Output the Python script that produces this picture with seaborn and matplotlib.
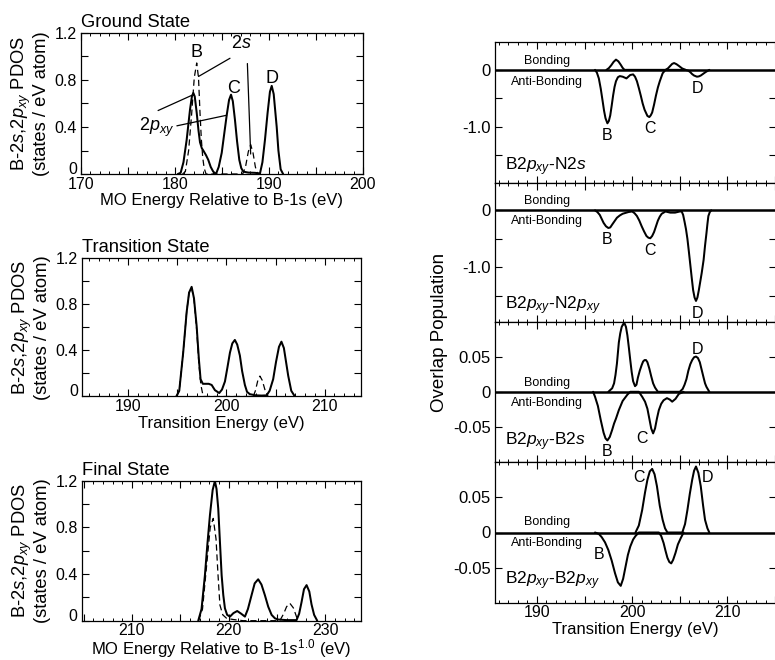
import numpy as np
import pandas as pd
import matplotlib
matplotlib.use("Agg")
import matplotlib.pyplot as plt
from matplotlib.ticker import MultipleLocator, FuncFormatter, FixedLocator
import seaborn as sns

# ---------------- data ----------------
# Ground state PDOS
gs_2p_x = [180.3, 180.6, 180.9, 181.24, 181.6, 181.8, 181.95, 182.1, 182.31, 182.5, 182.66, 182.85,
           183.01, 183.3, 183.54, 183.8, 184.07, 184.36, 184.65, 184.97, 185.25, 185.5, 185.75, 185.96,
           186.15, 186.38, 186.6, 186.84, 187.05, 187.27, 187.8, 188.5, 189.04, 189.3, 189.57, 189.85,
           190.1, 190.29, 190.5, 190.82, 191.0, 191.24, 191.5]
gs_2p_y = [0.0, 0.01, 0.1, 0.29, 0.55, 0.66, 0.69, 0.66, 0.52, 0.37, 0.27, 0.22,
           0.2, 0.16, 0.12, 0.06, 0.02, 0.0, 0.06, 0.18, 0.35, 0.5, 0.63, 0.675,
           0.62, 0.46, 0.28, 0.12, 0.05, 0.02, 0.012, 0.01, 0.005, 0.1, 0.29, 0.52,
           0.7, 0.75, 0.68, 0.4, 0.2, 0.04, 0.0]
gs_2s_x = [180.8, 181.1, 181.45, 181.78, 182.05, 182.31, 182.5, 182.66, 182.8, 182.95, 183.1, 183.3,
           187.2, 187.5, 187.8, 188.05, 188.3, 188.55, 188.8]
gs_2s_y = [0.0, 0.02, 0.2, 0.52, 0.82, 0.945, 0.82, 0.52, 0.3, 0.14, 0.05, 0.0,
           0.0, 0.06, 0.19, 0.25, 0.18, 0.06, 0.0]

# Transition state PDOS
ts_2p_x = [194.9, 195.2, 195.6, 195.95, 196.2, 196.46, 196.7, 196.97, 197.2, 197.37, 197.6, 197.8,
           198.2, 198.5, 198.83, 199.27, 199.55, 199.85, 200.1, 200.36, 200.6, 200.86, 201.1, 201.37,
           201.6, 201.88, 202.1, 202.39, 203.0, 203.6, 204.09, 204.4, 204.76, 205.05, 205.35, 205.6,
           205.85, 206.07, 206.29, 206.6, 206.97]
ts_2p_y = [0.0, 0.05, 0.38, 0.73, 0.9, 0.95, 0.85, 0.61, 0.32, 0.15, 0.11, 0.11,
           0.11, 0.1, 0.055, 0.03, 0.06, 0.13, 0.25, 0.38, 0.46, 0.49, 0.45, 0.355,
           0.22, 0.1, 0.04, 0.02, 0.01, 0.008, 0.01, 0.05, 0.15, 0.3, 0.43, 0.475,
           0.42, 0.3, 0.18, 0.05, 0.0]
ts_2s_x = [194.9, 195.2, 195.6, 195.95, 196.2, 196.46, 196.7, 196.97, 197.2, 197.4, 197.64,
           202.73, 202.95, 203.2, 203.41, 203.65, 203.95, 204.25]
ts_2s_y = [0.0, 0.05, 0.38, 0.73, 0.9, 0.94, 0.84, 0.58, 0.28, 0.1, 0.0,
           0.0, 0.05, 0.14, 0.177, 0.14, 0.05, 0.0]

# Final state PDOS
fs_2p_x = [216.86, 217.2, 217.55, 217.8, 218.07, 218.35, 218.58, 218.75, 218.93, 219.1, 219.28, 219.45,
           219.62, 219.85, 220.14, 220.5, 220.89, 221.3, 221.69, 222.0, 222.38, 222.7, 223.06, 223.4,
           223.75, 224.1, 224.45, 224.8, 225.13, 226.0, 227.03, 227.3, 227.55, 227.8, 228.07, 228.35,
           228.58, 228.85, 229.17]
fs_2p_y = [0.0, 0.1, 0.39, 0.65, 0.905, 1.12, 1.197, 1.13, 0.96, 0.68, 0.39, 0.22,
           0.106, 0.05, 0.035, 0.065, 0.083, 0.06, 0.035, 0.1, 0.22, 0.32, 0.355, 0.31,
           0.22, 0.12, 0.05, 0.02, 0.01, 0.005, 0.005, 0.06, 0.16, 0.27, 0.305, 0.25,
           0.14, 0.05, 0.0]
fs_2s_x = [216.9, 217.3, 217.7, 218.1, 218.41, 218.7, 218.9, 219.1, 219.4, 219.8, 220.5, 221.5,
           225.3, 225.7, 226.0, 226.34, 226.7, 227.0, 227.2]
fs_2s_y = [0.0, 0.1, 0.45, 0.8, 0.877, 0.7, 0.4, 0.135, 0.05, 0.02, 0.01, 0.0,
           0.0, 0.06, 0.12, 0.149, 0.11, 0.04, 0.0]

# Overlap populations (transition state)
n2s_bond_x = [197.3, 197.55, 197.8, 198.05, 198.3, 198.55, 198.8, 199.0, 199.2,
              203.5, 203.75, 204.0, 204.2, 204.4, 204.65, 204.9, 205.25, 205.6]
n2s_bond_y = [0.0, 0.03, 0.08, 0.14, 0.18, 0.15, 0.09, 0.035, 0.0,
              0.0, 0.025, 0.07, 0.105, 0.12, 0.1, 0.07, 0.025, 0.0]
n2s_anti_x = [196.1, 196.3, 196.5, 196.7, 196.9, 197.05, 197.2, 197.4, 197.55, 197.7, 197.85, 198.0,
              198.15, 198.3, 198.5, 198.7, 199.0, 199.4, 199.8, 200.1, 200.3, 200.5, 200.7, 200.9,
              201.1, 201.3, 201.6, 201.8, 201.95, 202.1, 202.3, 202.5, 202.7, 202.9, 203.2, 203.5,
              205.6, 205.9, 206.1, 206.3, 206.5, 206.8, 207.0, 207.2, 207.45, 207.7, 208.1]
n2s_anti_y = [0.0, -0.05, -0.15, -0.33, -0.55, -0.72, -0.85, -0.94, -0.9, -0.8, -0.63, -0.45,
              -0.3, -0.2, -0.13, -0.11, -0.12, -0.15, -0.09, -0.08, -0.12, -0.2, -0.32, -0.45,
              -0.59, -0.7, -0.81, -0.83, -0.8, -0.75, -0.61, -0.45, -0.31, -0.2, -0.06, 0.0,
              0.0, -0.015, -0.04, -0.075, -0.1, -0.12, -0.115, -0.1, -0.07, -0.04, 0.0]

n2p_anti_x = [196.1, 196.35, 196.6, 196.8, 197.0, 197.25, 197.5, 197.7, 197.9, 198.15, 198.4, 198.7,
              199.0, 199.6, 200.0, 200.25, 200.5, 200.75, 201.0, 201.25, 201.5, 201.7, 201.9, 202.1,
              202.3, 202.5, 202.7, 202.9, 203.1, 203.5, 204.0, 204.5, 205.0, 205.2, 205.35, 205.5,
              205.65, 205.8, 205.95, 206.1, 206.25, 206.4, 206.55, 206.7, 206.85, 207.0, 207.15,
              207.3, 207.5, 207.65, 207.8, 207.9, 208.0, 208.15, 208.3]
n2p_anti_y = [0.0, -0.03, -0.08, -0.15, -0.22, -0.28, -0.31, -0.3, -0.25, -0.19, -0.13, -0.09,
              -0.06, -0.03, -0.02, -0.05, -0.1, -0.18, -0.28, -0.37, -0.45, -0.48, -0.49, -0.45,
              -0.38, -0.28, -0.18, -0.11, -0.06, -0.02, -0.04, -0.04, -0.02, -0.02, -0.08, -0.2,
              -0.33, -0.5, -0.72, -0.95, -1.18, -1.4, -1.53, -1.59, -1.53, -1.4, -1.25,
              -1.1, -0.87, -0.62, -0.4, -0.24, -0.1, -0.03, 0.0]

b2s_bond_x = [197.5, 197.9, 198.1, 198.25, 198.4, 198.6, 198.75, 198.9, 199.05, 199.2, 199.35, 199.5,
              199.65, 199.8, 199.95, 200.1, 200.3, 200.45, 200.6, 200.8, 201.0, 201.15, 201.3, 201.45,
              201.6, 201.8, 202.0, 202.2, 202.4, 202.7,
              205.0, 205.3, 205.5, 205.7, 205.9, 206.1, 206.3, 206.5, 206.7, 206.9, 207.1,
              207.3, 207.5, 207.65, 207.8, 208.1]
b2s_bond_y = [0.0, 0.005, 0.012, 0.024, 0.04, 0.07, 0.083, 0.092, 0.096, 0.097, 0.092, 0.08,
              0.063, 0.045, 0.028, 0.015, 0.008, 0.01, 0.02, 0.03, 0.038, 0.043, 0.045, 0.045,
              0.042, 0.033, 0.022, 0.012, 0.006, 0.0,
              0.0, 0.004, 0.01, 0.018, 0.03, 0.039, 0.045, 0.049, 0.05, 0.048, 0.042,
              0.031, 0.02, 0.012, 0.007, 0.0]
b2s_anti_x = [195.9, 196.1, 196.4, 196.7, 197.0, 197.2, 197.4, 197.65, 197.9, 198.1, 198.3, 198.6,
              199.0, 199.5, 199.8,
              200.7, 201.05, 201.35, 201.6, 201.8, 202.0, 202.2, 202.4, 202.6, 202.8, 203.05,
              203.3, 203.65, 203.95, 204.2, 204.55, 204.9, 205.4]
b2s_anti_y = [0.0, -0.007, -0.02, -0.04, -0.058, -0.066, -0.069, -0.064, -0.054, -0.045, -0.038, -0.026,
              -0.013, -0.004, 0.0,
              0.0, -0.007, -0.014, -0.024, -0.038, -0.052, -0.059, -0.052, -0.038, -0.026, -0.017,
              -0.012, -0.009, -0.011, -0.014, -0.01, -0.003, 0.0]

b2p_bond_x = [200.35, 200.7, 201.05, 201.35, 201.6, 201.85, 202.1, 202.35, 202.6, 202.9, 203.2,
              203.45, 203.7,
              205.26, 205.55, 205.8, 206.05, 206.3, 206.5, 206.7, 206.95, 207.2, 207.45, 207.65,
              207.9, 208.1]
b2p_bond_y = [0.0, 0.01, 0.032, 0.057, 0.075, 0.087, 0.0906, 0.083, 0.066, 0.038, 0.018,
              0.006, 0.0,
              0.0, 0.012, 0.032, 0.055, 0.075, 0.088, 0.094, 0.085, 0.066, 0.038, 0.018,
              0.006, 0.0]
b2p_anti_x = [196.1, 196.5, 196.8, 197.15, 197.5, 197.85, 198.2, 198.5, 198.8, 199.05, 199.3, 199.55,
              199.8, 200.1, 200.35, 200.7,
              202.8, 203.05, 203.3, 203.5, 203.7, 203.9, 204.1, 204.3, 204.55, 204.8, 205.1, 205.4]
b2p_anti_y = [0.0, -0.002, -0.0066, -0.014, -0.025, -0.04, -0.058, -0.071, -0.076, -0.066, -0.049, -0.032,
              -0.02, -0.01, -0.005, 0.0,
              0.0, -0.005, -0.015, -0.026, -0.036, -0.042, -0.044, -0.039, -0.029, -0.017, -0.008, 0.0]

# ---------------- style ----------------
sns.set_theme(style="ticks")
plt.rcParams['font.family'] = ['Liberation Sans', 'DejaVu Sans']
plt.rcParams['mathtext.fontset'] = 'custom'
plt.rcParams['mathtext.rm'] = 'Liberation Sans'
plt.rcParams['mathtext.it'] = 'Liberation Sans:italic'
plt.rcParams['axes.unicode_minus'] = False
plt.rcParams['axes.linewidth'] = 0.9
plt.rcParams['axes.edgecolor'] = 'black'
for k in ['text.color', 'axes.labelcolor', 'xtick.color', 'ytick.color']:
    plt.rcParams[k] = 'black'

W, H = 775, 660
fig = plt.figure(figsize=(W / 100, H / 100), dpi=100)


def add_ax(x0, y0, x1, y1):
    return fig.add_axes([x0 / W, 1 - y1 / H, (x1 - x0) / W, (y1 - y0) / H])


def draw(ax, xs, ys, dashed=False):
    df = pd.DataFrame({"E": xs, "v": ys})
    if dashed:
        sns.lineplot(data=df, x="E", y="v", ax=ax, color="black", lw=0.9,
                     estimator=None, sort=False, linestyle=(0, (5, 3)))
    else:
        sns.lineplot(data=df, x="E", y="v", ax=ax, color="black", lw=1.45,
                     estimator=None, sort=False)


def tenfmt(v, pos):
    return "%d" % round(v) if abs(v / 10 - round(v / 10)) < 1e-6 else ""


def style_x(ax, labels=True):
    ax.xaxis.set_major_locator(MultipleLocator(5))
    ax.xaxis.set_minor_locator(MultipleLocator(1))
    ax.xaxis.set_major_formatter(FuncFormatter(tenfmt))
    ax.tick_params(axis="x", which="both", direction="in", top=True, bottom=True,
                   labelsize=11.5, colors="black", pad=2)
    ax.tick_params(axis="x", which="major", length=5, width=0.8)
    ax.tick_params(axis="x", which="minor", length=2.5, width=0.7)
    if not labels:
        ax.tick_params(axis="x", labelbottom=False)


ylab = "B-2$s$,2$p_{xy}$ PDOS\n(states / eV atom)"

left_specs = [
    ((81, 33, 363, 174), (170, 200), gs_2p_x, gs_2p_y, gs_2s_x, gs_2s_y,
     "Ground State", "MO Energy Relative to B-1s (eV)"),
    ((82, 258, 361, 396.5), (185.3, 213.7), ts_2p_x, ts_2p_y, ts_2s_x, ts_2s_y,
     "Transition State", "Transition Energy (eV)"),
    ((81.7, 480.7, 361, 620.7), (204.8, 233.7), fs_2p_x, fs_2p_y, fs_2s_x, fs_2s_y,
     "Final State", "MO Energy Relative to B-1$s^{1.0}$ (eV)"),
]
left_axes = []
for j, (box, xl, px, py, sx, sy, title, xlabel) in enumerate(left_specs):
    ax = add_ax(*box)
    draw(ax, sx, sy, dashed=True)
    draw(ax, px, py)
    ax.set_xlim(*xl)
    ax.set_ylim(0, 1.2)
    style_x(ax)
    ax.yaxis.set_major_locator(FixedLocator([0, 0.4, 0.8, 1.2]))
    ax.set_yticklabels(["0", "0.4", "0.8", "1.2"])
    ax.get_yticklabels()[0].set_va("baseline")
    ax.yaxis.set_minor_locator(MultipleLocator(0.2))
    ax.tick_params(axis="y", which="both", direction="in", left=True, right=True,
                   labelsize=11.5, colors="black", length=5, width=0.8, pad=3)
    ax.set_xlabel(xlabel, fontsize=12, labelpad=(-1 if j == 2 else 1), color="black")
    ax.set_ylabel(ylab, fontsize=13.2, labelpad=3, color="black", linespacing=1.0)
    ax.text(0.0, 1.015, title, transform=ax.transAxes, fontsize=13.2,
            ha="left", va="bottom", color="black")
    for s in ax.spines.values():
        s.set_visible(True)
    left_axes.append(ax)

# annotations in ground state panel
ag = left_axes[0]
ag.text(182.3, 1.03, "B", fontsize=13, ha="center", va="center")
ag.text(190.3, 0.81, "D", fontsize=13, ha="center", va="center")
ag.text(186.2, 0.73, "C", fontsize=13, ha="center", va="center")
ag.text(187.1, 1.11, "2$s$", fontsize=13, ha="center", va="center")
ag.text(178.05, 0.40, "2$p_{xy}$", fontsize=13, ha="center", va="center")
for (x0, y0, x1, y1) in [(185.85, 0.985, 182.5, 0.83), (187.7, 0.94, 188.05, 0.17),
                         (178.2, 0.54, 181.8, 0.67), (180.2, 0.41, 185.5, 0.50)]:
    ag.annotate("", xy=(x1, y1), xytext=(x0, y0),
                arrowprops=dict(arrowstyle="-", color="black", lw=0.9, shrinkA=0, shrinkB=0))

# ---------------- right column: overlap populations ----------------
right_specs = [
    ((495, 42, 776, 183), (-1.99, 0.49), n2s_bond_x, n2s_bond_y, n2s_anti_x, n2s_anti_y,
     [0, -1.0], ["0", "-1.0"], [-0.5, -1.5], "B2$p_{xy}$-N2$s$", -1.70,
     [("B", 197.37, -1.15), ("C", 201.9, -1.03), ("D", 206.9, -0.32)], (0.16, -0.21)),
    ((495, 183, 776, 322), (-1.96, 0.48), None, None, n2p_anti_x, n2p_anti_y,
     [0, -1.0], ["0", "-1.0"], [-0.5, -1.5], "B2$p_{xy}$-N2$p_{xy}$", -1.67,
     [("B", 197.37, -0.52), ("C", 201.9, -0.70), ("D", 206.84, -1.81)], (0.16, -0.19)),
    ((495, 322, 776, 462.3), (-0.1, 0.099), b2s_bond_x, b2s_bond_y, b2s_anti_x, b2s_anti_y,
     [0.05, 0, -0.05], ["0.05", "0", "-0.05"], [], "B2$p_{xy}$-B2$s$", -0.071,
     [("B", 197.37, -0.084), ("C", 201.05, -0.066), ("D", 206.84, 0.060)], (0.0127, -0.0165)),
    ((495, 462.3, 776, 602.7), (-0.1, 0.1), b2p_bond_x, b2p_bond_y, b2p_anti_x, b2p_anti_y,
     [0.05, 0, -0.05], ["0.05", "0", "-0.05"], [], "B2$p_{xy}$-B2$p_{xy}$", -0.068,
     [("B", 196.5, -0.032), ("C", 200.7, 0.078), ("D", 207.9, 0.078)], (0.0143, -0.015)),
]
n_r = len(right_specs)
for i, (box, yl, bx, by, ax_, ay_, yt, ytl, ymin, lab, laby, peaks, bl) in enumerate(right_specs):
    ax = add_ax(*box)
    ax.axhline(0, color="black", lw=1.8, zorder=3)
    if bx is not None:
        draw(ax, bx, by)
    draw(ax, ax_, ay_)
    ax.set_xlim(185.6, 215.1)
    ax.set_ylim(*yl)
    style_x(ax, labels=(i == n_r - 1))
    ax.yaxis.set_major_locator(FixedLocator(yt))
    ax.set_yticklabels(ytl)
    ax.yaxis.set_minor_locator(FixedLocator(ymin))
    ax.tick_params(axis="y", which="both", direction="in", left=True, right=True,
                   labelsize=12, colors="black", length=5, width=0.8, pad=3)
    ax.set_xlabel("")
    ax.set_ylabel("")
    ax.text(186.6, laby, lab, fontsize=12.5, ha="left", va="center")
    for t, x, y in peaks:
        ax.text(x, y, t, fontsize=11.5, ha="center", va="center")
    ax.text(191.1, bl[0], "Bonding", fontsize=9, ha="center", va="center")
    ax.text(191.05, bl[1], "Anti-Bonding", fontsize=9, ha="center", va="center")
    for s in ax.spines.values():
        s.set_visible(True)
    if i == n_r - 1:
        ax.set_xlabel("Transition Energy (eV)", fontsize=12, labelpad=1, color="black")

fig.text(440 / W, 1 - 332 / H, "Overlap Population", rotation=90, fontsize=13.5,
         ha="center", va="center")

fig.savefig("out.png", dpi=100)
